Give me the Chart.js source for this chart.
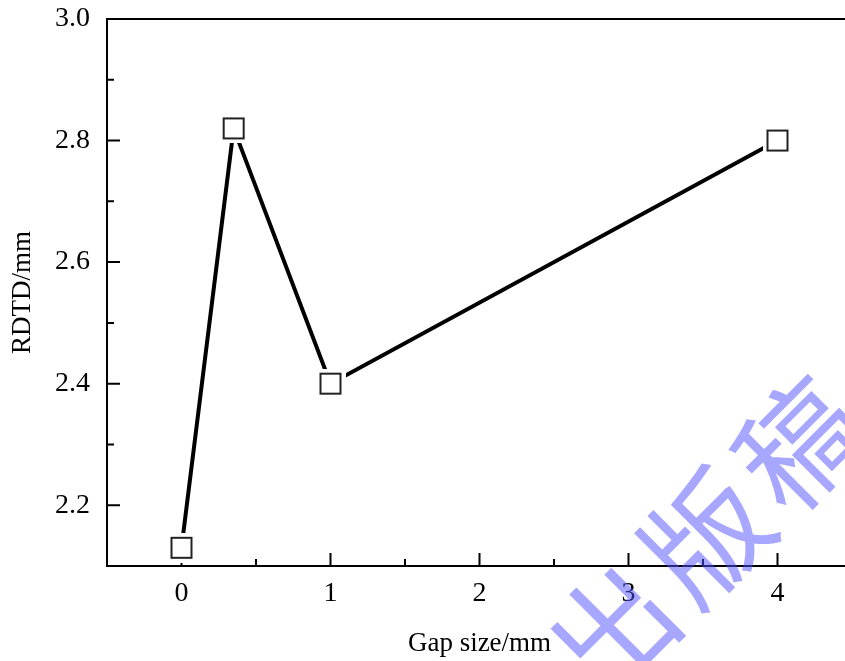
<!DOCTYPE html>
<html>
<head>
<meta charset="utf-8">
<script src="https://cdn.jsdelivr.net/npm/chart.js@4.4.1/dist/chart.umd.min.js"></script>
<style>
  html, body { margin: 0; padding: 0; background: #fff; overflow: hidden; }
  canvas { display: block; }
</style>
</head>
<body>
<canvas id="rdtdChart" width="860" height="661"></canvas>
<script>
// values
const gapSize = [0, 0.35, 1, 4];
const rdtd    = [2.13, 2.82, 2.40, 2.80];

const xTicks = [0, 1, 2, 3, 4];
const yTicks = [2.2, 2.4, 2.6, 2.8, 3.0];
const xMinor = [0.5, 1.5, 2.5, 3.5];
const yMinor = [2.3, 2.5, 2.7, 2.9];

const serif = '"Liberation Serif", "Times New Roman", serif';

// open square marker with a white margin so the line stops short of it
function squareMarker() {
    const c = document.createElement('canvas');
    c.width = 30; c.height = 30;
    const g = c.getContext('2d');
    g.fillStyle = '#fff';
    g.fillRect(0, 0, 30, 30);
    g.strokeStyle = '#222';
    g.lineWidth = 2;
    g.strokeRect(5, 5, 20, 20);
    return c;
}

const frameTicks = {
    id: 'frameTicks',
    beforeDatasetsDraw(chart) {
        const { ctx, chartArea: a, scales: { x, y } } = chart;
        ctx.save();
        ctx.strokeStyle = '#000';
        ctx.lineWidth = 2;
        ctx.strokeRect(a.left, a.top, a.right - a.left, a.bottom - a.top);
        ctx.beginPath();
        xTicks.forEach(v => { const p = x.getPixelForValue(v); ctx.moveTo(p, a.bottom); ctx.lineTo(p, a.bottom - 13); });
        xMinor.forEach(v => { const p = x.getPixelForValue(v); ctx.moveTo(p, a.bottom); ctx.lineTo(p, a.bottom - 7); });
        yTicks.forEach(v => { const p = y.getPixelForValue(v); ctx.moveTo(a.left, p); ctx.lineTo(a.left + 13, p); });
        yMinor.forEach(v => { const p = y.getPixelForValue(v); ctx.moveTo(a.left, p); ctx.lineTo(a.left + 7, p); });
        ctx.stroke();
        ctx.restore();
    }
};

const watermark = {
    id: 'watermark',
    afterDraw(chart) {
        const ctx = chart.ctx;
        ctx.save();
        ctx.translate(706, 537);
        ctx.rotate(-Math.PI / 4);
        ctx.font = '122px "Noto Sans CJK SC"';
        ctx.fillStyle = 'rgba(80, 80, 255, 0.5)';
        ctx.textAlign = 'center';
        ctx.textBaseline = 'middle';
        ['出', '版', '稿'].forEach((ch, i) => ctx.fillText(ch, (i - 1) * 132, 0));
        ctx.restore();
    }
};

new Chart(document.getElementById('rdtdChart'), {
    type: 'line',
    data: {
        datasets: [{
            data: gapSize.map((g, i) => ({ x: g, y: rdtd[i] })),
            borderColor: '#000',
            borderWidth: 4,
            tension: 0,
            fill: false,
            pointStyle: squareMarker(),
            pointRadius: 15,
            pointHoverRadius: 15
        }]
    },
    options: {
        responsive: false,
        animation: false,
        layout: { autoPadding: false, padding: { left: 0, top: 19, right: 8, bottom: 0 } },
        plugins: {
            legend: { display: false },
            tooltip: { enabled: false }
        },
        scales: {
            x: {
                type: 'linear',
                min: -0.5,
                max: 4.5,
                afterBuildTicks: s => { s.ticks = xTicks.map(v => ({ value: v })); },
                afterFit: s => { s.height = 95; s.paddingLeft = 0; s.paddingRight = 0; },
                grid: { display: false, drawTicks: false },
                border: { display: false },
                ticks: { color: '#000', padding: 11, font: { family: serif, size: 28 } },
                title: {
                    display: true,
                    text: 'Gap size/mm',
                    color: '#000',
                    font: { family: serif, size: 27 },
                    padding: { top: 0, bottom: 1 }
                }
            },
            y: {
                min: 2.1,
                max: 3.0,
                afterBuildTicks: s => { s.ticks = yTicks.map(v => ({ value: v })); },
                afterFit: s => { s.width = 107; s.paddingTop = 0; s.paddingBottom = 0; },
                grid: { display: false, drawTicks: false },
                border: { display: false },
                ticks: {
                    color: '#000',
                    padding: 17,
                    font: { family: serif, size: 28 },
                    callback: v => v.toFixed(1)
                },
                title: {
                    display: true,
                    text: 'RDTD/mm',
                    color: '#000',
                    font: { family: serif, size: 27 },
                    padding: { top: 7, bottom: 0 }
                }
            }
        }
    },
    plugins: [frameTicks, watermark]
});
</script>
</body>
</html>
